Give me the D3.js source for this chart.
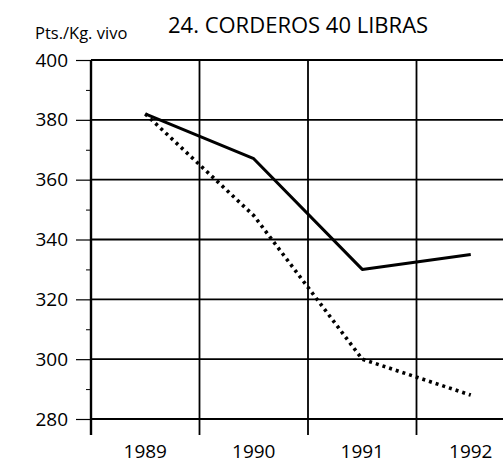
<!DOCTYPE html>
<html><head><meta charset="utf-8">
<script src="https://cdn.jsdelivr.net/npm/d3@7"></script>
<style>html,body{margin:0;padding:0;background:#fff;overflow:hidden}</style>
</head><body>
<svg id="c" width="503" height="470"></svg>
<script>
const years = ["1989","1990","1991","1992"];
const solidSeries = [382, 367, 330, 335];
const dottedSeries = [382, 348, 300, 288];
const yTicks = [280, 300, 320, 340, 360, 380, 400];
const yMinorTicks = [290, 310, 330, 350, 370, 390];
const title = "24. CORDEROS 40 LIBRAS";
const unitLabel = "Pts./Kg. vivo";

const svg = d3.select("#c");
const mLeft = 91, mTop = 60, mBottom = 419, bandW = 108.5;
const x = d3.scaleBand().domain(years).range([mLeft, mLeft + bandW * years.length]).padding(0);
const y = d3.scaleLinear().domain([280, 400]).range([mBottom, mTop]);
const font = "'Open Sans', sans-serif";

// horizontal grid
svg.append("g").selectAll("line").data(yTicks).join("line")
  .attr("x1", mLeft).attr("x2", 503)
  .attr("y1", d => y(d)).attr("y2", d => y(d))
  .attr("stroke", "#000").attr("stroke-width", d => (d === 280 || d === 400) ? 2.2 : 1.8);

// vertical grid (band boundaries)
const bounds = years.map(d => x(d)).concat([x(years[years.length-1]) + x.bandwidth()]);
svg.append("g").selectAll("line").data(bounds).join("line")
  .attr("x1", d => d).attr("x2", d => d)
  .attr("y1", mTop).attr("y2", mBottom + 16)
  .attr("stroke", "#000").attr("stroke-width", (d,i) => i === 0 ? 2.4 : 1.8);

// y axis
const yAxis = d3.axisLeft(y).tickValues(yTicks).tickSize(15).tickPadding(8).tickFormat(d3.format("d"));
const ga = svg.append("g").attr("transform", `translate(${mLeft},0)`).call(yAxis);
ga.select(".domain").remove();
ga.selectAll("line").attr("stroke-width", 1.2);
ga.selectAll("text").attr("font-family", font).attr("font-size", 19).attr("font-weight", 500).attr("fill", "#000");
const yMinor = d3.axisLeft(y).tickValues(yMinorTicks).tickSize(5).tickFormat("");
const gm = svg.append("g").attr("transform", `translate(${mLeft},0)`).call(yMinor);
gm.select(".domain").remove();
gm.selectAll("line").attr("stroke-width", 1);

// x axis labels
const xAxis = d3.axisBottom(x).tickSize(0).tickPadding(26);
const gx = svg.append("g").attr("transform", `translate(0,${mBottom})`).call(xAxis);
gx.select(".domain").remove();
gx.selectAll("text").attr("font-family", font).attr("font-size", 19).attr("font-weight", 500).attr("fill", "#000");

const cx = d => x(d) + x.bandwidth() / 2;
const line = d3.line().x((d,i) => cx(years[i])).y(d => y(d));

svg.append("path").datum(solidSeries).attr("d", line)
  .attr("fill", "none").attr("stroke", "#000").attr("stroke-width", 3).attr("stroke-linejoin", "round");
svg.append("path").datum(dottedSeries).attr("d", line)
  .attr("fill", "none").attr("stroke", "#000").attr("stroke-width", 3.6)
  .attr("stroke-dasharray", "3,4").attr("stroke-linecap", "butt");

svg.append("text").attr("x", 168).attr("y", 33).attr("font-family", font).attr("font-size", 22).attr("font-weight", 500).attr("fill", "#000").text(title);
svg.append("text").attr("x", 35).attr("y", 39).attr("font-family", font).attr("font-size", 16.5).attr("font-weight", 500).attr("fill", "#000").text(unitLabel);
</script>
</body></html>
